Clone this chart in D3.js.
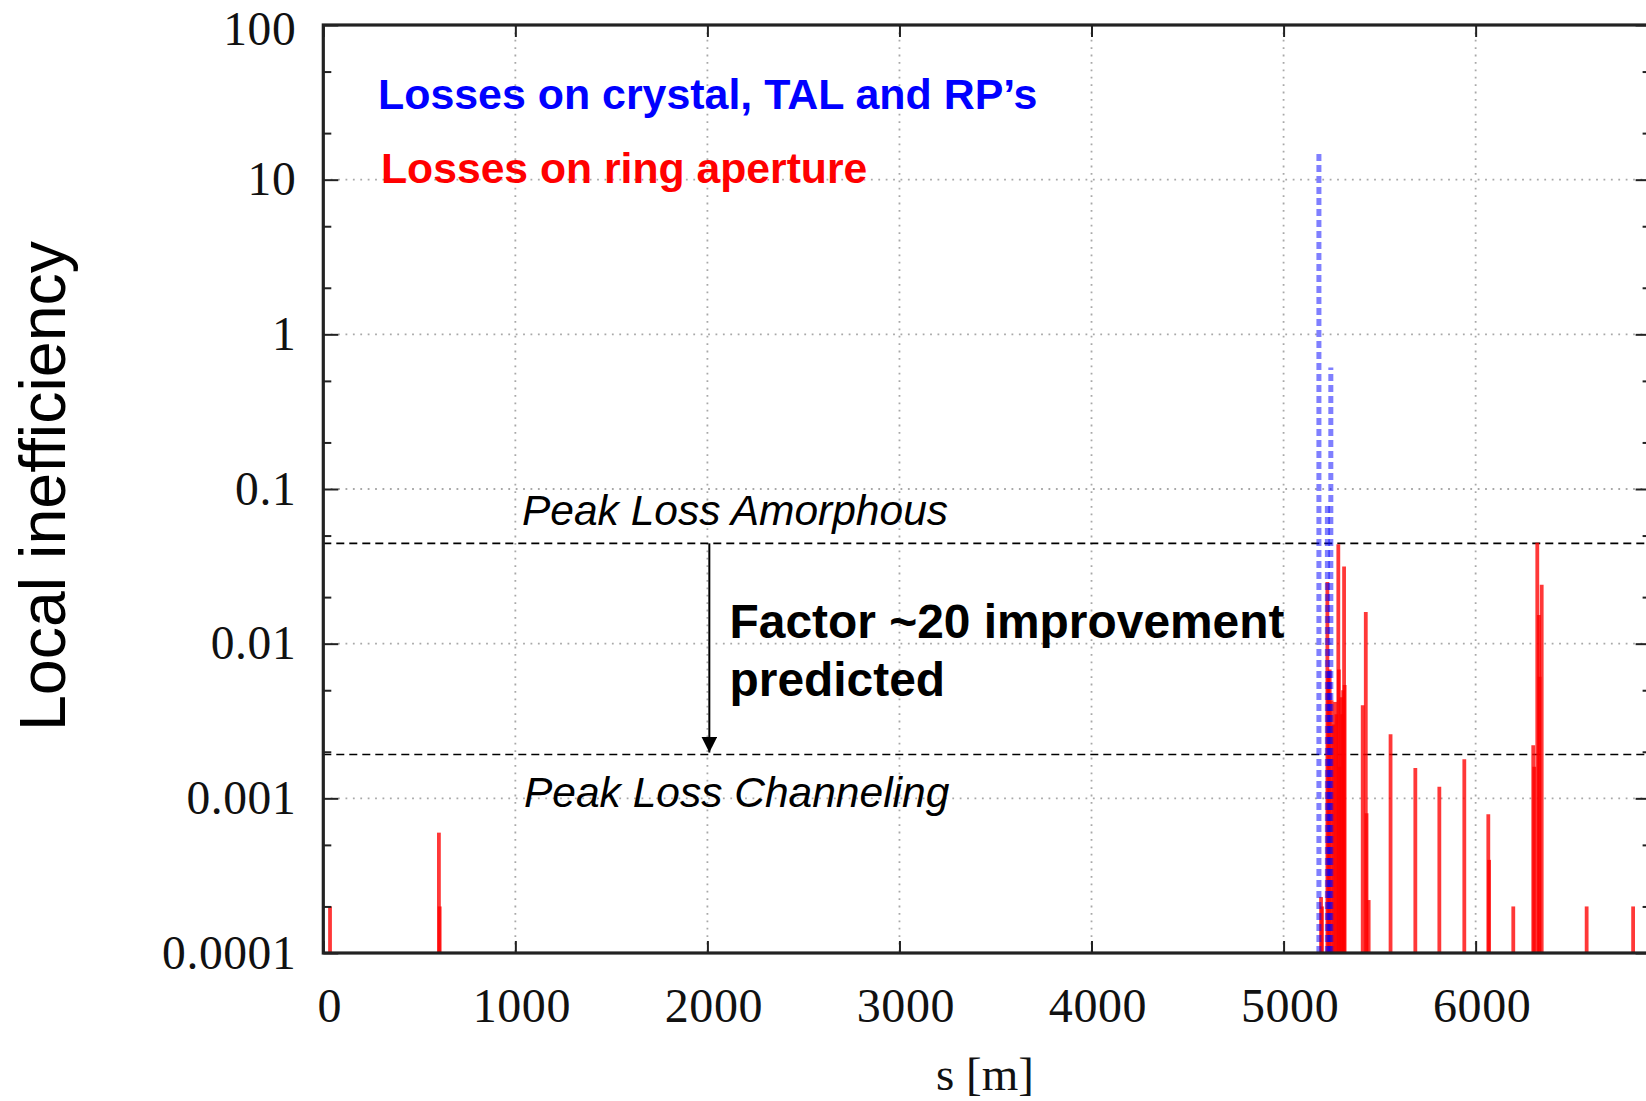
<!DOCTYPE html>
<html>
<head>
<meta charset="utf-8">
<script src="https://cdn.jsdelivr.net/npm/d3@7"></script>
<style>
  body { margin: 0; background: #fff; }
  svg { display: block; }
  .tick text { font-family: "Liberation Serif", "Times New Roman", serif; fill: #111; }
</style>
</head>
<body>
<div id="chart"></div>
<script>
// losses on ring aperture: [s (m), local inefficiency]
const ringLosses = [
    [35, 2.0e-4], [602, 6.0e-4], [606, 2.0e-4],
    [5195, 2.3e-4], [5200, 2.0e-4],
    [5228, 0.025], [5233, 0.0066], [5240, 0.0068], [5250, 0.0043], [5260, 0.003],
    [5268, 0.0042], [5275, 0.0035], [5285, 0.044], [5288, 0.0068], [5290, 0.0016],
    [5300, 0.0045], [5305, 0.0035], [5310, 0.005], [5315, 0.0316], [5318, 0.0054],
    [5412, 0.0040], [5428, 0.016], [5432, 8.0e-4], [5443, 2.2e-4],
    [5557, 0.0026], [5686, 0.00157], [5811, 0.00119], [5941, 0.00179],
    [6066, 7.9e-4], [6070, 4.0e-4], [6196, 2.0e-4],
    [6300, 0.0022], [6305, 0.0016], [6321, 0.045], [6330, 0.0153], [6333, 0.0061], [6344, 0.024],
    [6578, 2.0e-4], [6820, 2.0e-4]
];

// losses on crystal, TAL and roman pots
const crystalLosses = [
    [5184, 15.5], [5228, 0.078], [5238, 0.0068], [5246, 0.61]
];

const xTicks = [0, 1000, 2000, 3000, 4000, 5000, 6000];
const xGrid = [1000, 2000, 3000, 4000, 5000, 6000];
const yTicks = [100, 10, 1, 0.1, 0.01, 0.001, 0.0001];
const yGrid = [10, 1, 0.1, 0.01, 0.001];
const yMinor = [50, 20, 5, 2, 0.5, 0.2, 0.05, 0.02, 0.005, 0.002, 0.0005, 0.0002];

const peakAmorphous = 0.0445;
const peakChanneling = 0.00192;
const arrowS = 2010;

const W = 1646, H = 1101;
const plotL = 323.3, plotR = 1650.6, plotT = 25, plotB = 953;

const svg = d3.select('#chart').append('svg')
    .attr('width', W)
    .attr('height', H);

svg.append('rect').attr('width', W).attr('height', H).attr('fill', '#fff');

const x = d3.scaleLinear().domain([0, 6911]).range([plotL, plotR]);
const y = d3.scaleLog().domain([1e-4, 100]).range([plotB, plotT]);

// grid
const gridG = svg.append('g')
    .attr('stroke', '#a8a8a8')
    .attr('stroke-width', 1.8)
    .attr('stroke-dasharray', '1.8,5.6');

gridG.selectAll('.gy').data(yGrid).enter().append('line')
    .attr('x1', plotL).attr('x2', plotR)
    .attr('y1', d => y(d)).attr('y2', d => y(d));

gridG.selectAll('.gx').data(xGrid).enter().append('line')
    .attr('x1', d => x(d)).attr('x2', d => x(d))
    .attr('y1', plotT).attr('y2', plotB);

// peak loss levels
svg.selectAll('.peak').data([peakAmorphous, peakChanneling]).enter().append('line')
    .attr('x1', plotL).attr('x2', plotR)
    .attr('y1', d => y(d)).attr('y2', d => y(d))
    .attr('stroke', '#000')
    .attr('stroke-width', 1.6)
    .attr('stroke-dasharray', '8,5');

// red impulses
svg.append('g').selectAll('line').data(ringLosses).enter().append('line')
    .attr('x1', d => x(d[0])).attr('x2', d => x(d[0]))
    .attr('y1', plotB).attr('y2', d => y(d[1]))
    .attr('stroke', '#ff0000')
    .attr('stroke-opacity', 0.78)
    .attr('stroke-width', 3.8);

// blue dashed impulses
svg.append('g').selectAll('line').data(crystalLosses).enter().append('line')
    .attr('x1', d => x(d[0])).attr('x2', d => x(d[0]))
    .attr('y1', plotB).attr('y2', d => y(d[1]))
    .attr('stroke', '#0000ff')
    .attr('stroke-opacity', 0.5)
    .attr('stroke-width', 5)
    .attr('stroke-dasharray', '7,4');

// arrow between the two levels
const defs = svg.append('defs');
defs.append('marker')
    .attr('id', 'arrowhead')
    .attr('viewBox', '0 0 10 10')
    .attr('refX', 10).attr('refY', 5)
    .attr('markerWidth', 8).attr('markerHeight', 8)
    .attr('markerUnits', 'strokeWidth')
    .attr('orient', 'auto')
    .append('path')
    .attr('d', 'M0,0 L10,5 L0,10 Z')
    .attr('fill', '#000');

svg.append('line')
    .attr('x1', x(arrowS)).attr('x2', x(arrowS))
    .attr('y1', y(peakAmorphous)).attr('y2', y(peakChanneling) - 2)
    .attr('stroke', '#000')
    .attr('stroke-width', 2)
    .attr('marker-end', 'url(#arrowhead)');

// axes
const fmt = d => String(d);

const yAxis = svg.append('g')
    .attr('transform', `translate(${plotL},0)`)
    .call(d3.axisLeft(y).tickValues(yTicks).tickFormat(fmt).tickSize(-15).tickPadding(27));
const yMinorAxis = svg.append('g')
    .attr('transform', `translate(${plotL},0)`)
    .call(d3.axisLeft(y).tickValues(yMinor).tickFormat('').tickSize(-8));
const yRight = svg.append('g')
    .attr('transform', `translate(${plotR},0)`)
    .call(d3.axisRight(y).tickValues(yTicks).tickFormat('').tickSize(-15));
const yRightMinor = svg.append('g')
    .attr('transform', `translate(${plotR},0)`)
    .call(d3.axisRight(y).tickValues(yMinor).tickFormat('').tickSize(-8));
const xAxis = svg.append('g')
    .attr('transform', `translate(0,${plotB})`)
    .call(d3.axisBottom(x).tickValues(xTicks).tickFormat(fmt).tickSize(-12).tickPadding(35));
const xTop = svg.append('g')
    .attr('transform', `translate(0,${plotT})`)
    .call(d3.axisTop(x).tickValues(xTicks).tickFormat('').tickSize(-12));

[yAxis, yMinorAxis, yRight, yRightMinor, xAxis, xTop].forEach(g => {
    g.select('.domain').remove();
    g.selectAll('.tick line').attr('stroke', '#222').attr('stroke-width', 2);
});
yAxis.selectAll('.tick text').attr('font-size', 47.5).attr('letter-spacing', 0.6);
// keep the top label inside the page
yAxis.selectAll('.tick text').filter(d => d === 100).attr('dy', '0.4em');
xAxis.selectAll('.tick text').attr('font-size', 48).attr('letter-spacing', 0.6).attr('dx', 6);

// frame
svg.append('rect')
    .attr('x', plotL).attr('y', plotT)
    .attr('width', plotR - plotL).attr('height', plotB - plotT)
    .attr('fill', 'none')
    .attr('stroke', '#222')
    .attr('stroke-width', 3.2);

// axis titles
svg.append('text')
    .attr('x', 985).attr('y', 1090)
    .attr('text-anchor', 'middle')
    .attr('font-family', '"Liberation Serif", "Times New Roman", serif')
    .attr('font-size', 47)
    .attr('fill', '#111')
    .text('s [m]');

svg.append('text')
    .attr('transform', 'translate(65,486) rotate(-90)')
    .attr('text-anchor', 'middle')
    .attr('font-family', '"Liberation Sans", Arial, sans-serif')
    .attr('font-size', 64.5)
    .attr('fill', '#000')
    .text('Local inefficiency');

// legend texts
const sans = '"Liberation Sans", Arial, sans-serif';
svg.append('text')
    .attr('x', 378).attr('y', 109)
    .attr('font-family', sans).attr('font-weight', 'bold').attr('font-size', 42.9)
    .attr('fill', '#0000ff')
    .text('Losses on crystal, TAL and RP\u2019s');

svg.append('text')
    .attr('x', 381).attr('y', 183)
    .attr('font-family', sans).attr('font-weight', 'bold').attr('font-size', 42.7)
    .attr('fill', '#ff0000')
    .text('Losses on ring aperture');

// annotations
svg.append('text')
    .attr('x', 522).attr('y', 525)
    .attr('font-family', sans).attr('font-style', 'italic').attr('font-size', 42.5)
    .attr('fill', '#000')
    .text('Peak Loss Amorphous');

svg.append('text')
    .attr('x', 524).attr('y', 807)
    .attr('font-family', sans).attr('font-style', 'italic').attr('font-size', 42.5)
    .attr('fill', '#000')
    .text('Peak Loss Channeling');

svg.append('text')
    .attr('x', 729.5).attr('y', 638)
    .attr('font-family', sans).attr('font-weight', 'bold').attr('font-size', 47.9)
    .attr('fill', '#000')
    .text('Factor ~20 improvement');

svg.append('text')
    .attr('x', 729.5).attr('y', 696)
    .attr('font-family', sans).attr('font-weight', 'bold').attr('font-size', 47.9)
    .attr('fill', '#000')
    .text('predicted');
</script>
</body>
</html>
